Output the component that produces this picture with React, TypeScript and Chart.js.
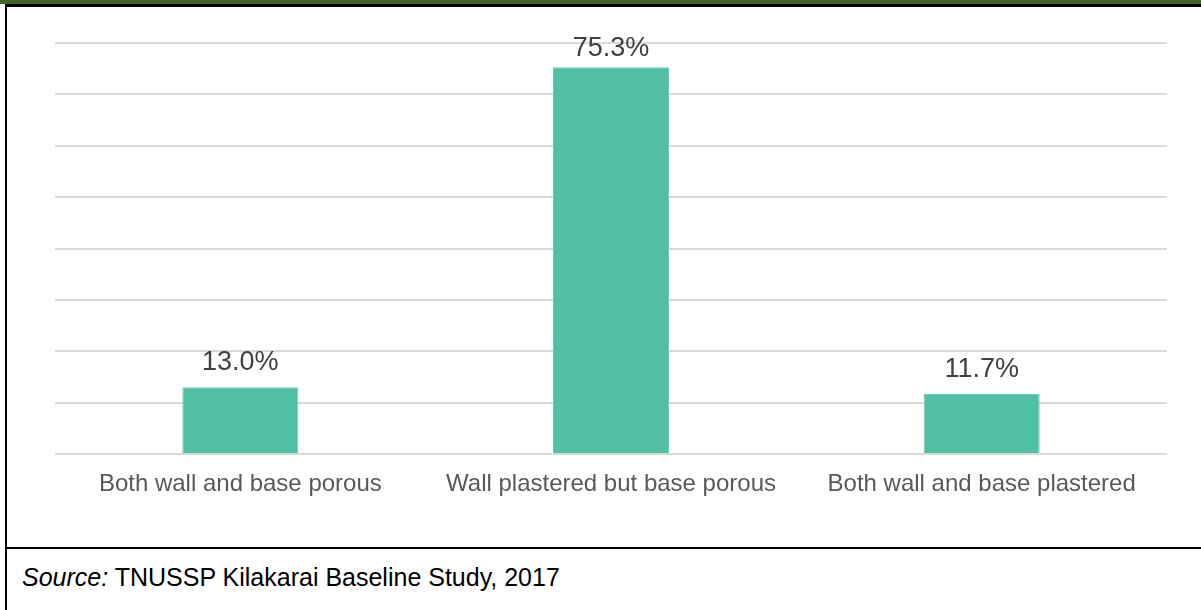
import React, { useEffect, useRef } from "react";
import { Chart, registerables } from "chart.js";

Chart.register(...registerables);

const categories = [
  "Both wall and base porous",
  "Wall plastered but base porous",
  "Both wall and base plastered",
];
const values = [13.0, 75.3, 11.7];
const yMax = 80;
const yStep = 10;
const sourceLabel = "Source:";
const sourceText = " TNUSSP Kilakarai Baseline Study, 2017";

const FONT = "'Liberation Sans', Arial, sans-serif";

const dataLabelPlugin = {
  id: "dataLabels",
  afterDatasetsDraw(chart: any) {
    const ctx = chart.ctx;
    const meta = chart.getDatasetMeta(0);
    const top = chart.chartArea.top;
    ctx.save();
    ctx.font = `27px ${FONT}`;
    ctx.fillStyle = "#404040";
    ctx.textAlign = "center";
    ctx.textBaseline = "alphabetic";
    meta.data.forEach((el: any, i: number) => {
      const v = chart.data.datasets[0].data[i] as number;
      const y = Math.max(el.y - 17, top + 13);
      ctx.fillText(v.toFixed(1) + "%", el.x, y);
    });
    ctx.restore();
  },
};

export default function App() {
  const canvasRef = useRef<HTMLCanvasElement | null>(null);

  useEffect(() => {
    if (!canvasRef.current) return;
    const chart = new Chart(canvasRef.current, {
      type: "bar",
      data: {
        labels: categories,
        datasets: [
          {
            data: values,
            backgroundColor: "#51BFA5",
            borderColor: "#6FCBB5",
            borderWidth: 1,
            categoryPercentage: 1,
            barPercentage: 0.313,
          },
        ],
      },
      options: {
        animation: false,
        responsive: false,
        maintainAspectRatio: false,
        layout: { padding: { top: 36, left: 48, right: 34, bottom: 0 } },
        plugins: {
          legend: { display: false },
          tooltip: { enabled: false },
        },
        scales: {
          x: {
            grid: { display: false },
            border: { display: false },
            ticks: {
              color: "#595959",
              font: { family: FONT, size: 24 },
              padding: 8,
              maxRotation: 0,
              autoSkip: false,
            },
            afterFit: (s: any) => {
              s.height = 93;
            },
          },
          y: {
            min: 0,
            max: yMax,
            ticks: { display: false, stepSize: yStep },
            grid: { color: "#d9d9d9", lineWidth: 2, drawTicks: false },
            border: { display: false },
            afterFit: (s: any) => {
              s.width = 0;
            },
          },
        },
      },
      plugins: [dataLabelPlugin],
    });
    return () => chart.destroy();
  }, []);

  return (
    <div
      style={{
        position: "fixed",
        left: 0,
        top: 0,
        width: 1201,
        height: 610,
        background: "#fff",
        overflow: "hidden",
        fontFamily: FONT,
      }}
    >
      <div style={{ position: "absolute", left: 0, top: 0, width: 1201, height: 4, background: "#42632A" }} />
      <div style={{ position: "absolute", left: 5, top: 4, width: 1196, height: 2.5, background: "#000" }} />
      <div style={{ position: "absolute", left: 5, top: 4, width: 2, height: 606, background: "#000" }} />
      <div style={{ position: "absolute", left: 5, top: 547, width: 1196, height: 2, background: "#000" }} />
      <canvas
        ref={canvasRef}
        width={1194}
        height={540}
        style={{ position: "absolute", left: 7, top: 7, width: 1194, height: 540 }}
      />
      <div
        style={{
          position: "absolute",
          left: 22,
          top: 565,
          fontSize: 25,
          lineHeight: "25px",
          color: "#000",
          whiteSpace: "pre",
        }}
      >
        <i>{sourceLabel}</i>
        {sourceText}
      </div>
    </div>
  );
}
